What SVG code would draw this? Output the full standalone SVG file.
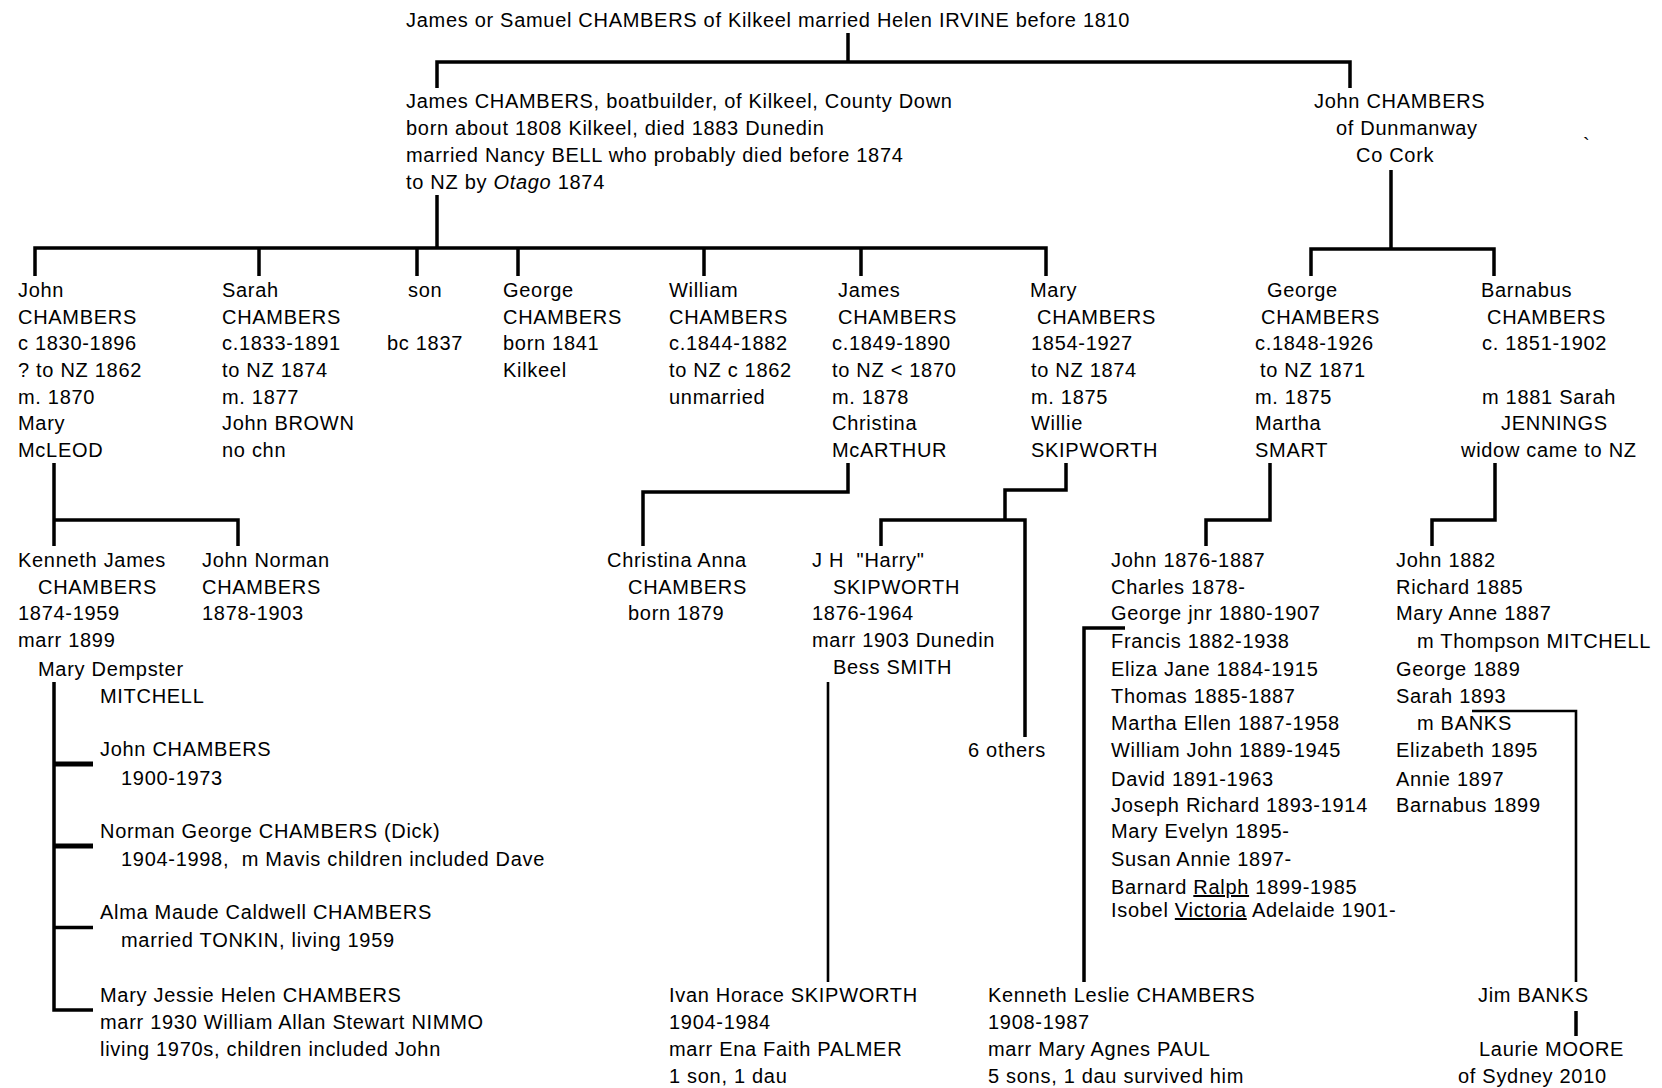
<svg xmlns="http://www.w3.org/2000/svg" width="1662" height="1088" viewBox="0 0 1662 1088">
<style>
text{font-family:"Liberation Sans",Arial,sans-serif;font-size:20px;letter-spacing:0.7px;fill:#000}
.c{fill:none;stroke:#000;stroke-width:3.5;stroke-linejoin:miter;stroke-linecap:butt}
.t{fill:none;stroke:#000;stroke-width:2.6}
.k{fill:none;stroke:#000;stroke-width:5}
.u{text-decoration:underline}
</style>
<rect width="1662" height="1088" fill="#fff"/>
<g id="connectors">
<path class="c" d="M848,33V62M437,88V62H1350V88"/>
<path class="c" d="M437,195V248M35,276V248H1046V276M259,248V276M417,248V276M518,248V276M704,248V276M861,248V276"/>
<path class="c" d="M1391,170V249M1311,276V249H1494V276"/>
<path class="c" d="M54,463V546M54,520H238V546"/>
<path class="c" d="M848,463V492H643V546"/>
<path class="c" d="M1066,463V490H1005V520M881,546V520H1025V737"/>
<path class="c" d="M1270,463V520H1206V546"/>
<path class="c" d="M1495,463V520H1432V546"/>
<path class="c" d="M54,682V1010H93M54,927.5H93"/>
<path class="k" d="M54,764H93M54,846H93"/>
<path class="t" d="M828,682V982"/>
<path class="c" d="M1125,628H1084V982"/>
<path class="t" d="M1472,711H1576V982"/>
<path class="c" d="M1576,1011V1036"/>
</g>
<g id="title"><text x="406" y="27">James or Samuel CHAMBERS of Kilkeel married Helen IRVINE before 1810</text></g>
<g id="james-sr">
<text x="406" y="108">James CHAMBERS, boatbuilder, of Kilkeel, County Down</text>
<text x="406" y="135">born about 1808 Kilkeel, died 1883 Dunedin</text>
<text x="406" y="162">married Nancy BELL who probably died before 1874</text>
<text x="406" y="189">to NZ by <tspan font-style="italic">Otago</tspan> 1874</text>
</g>
<g id="john-dunmanway">
<text x="1314" y="108">John CHAMBERS</text>
<text x="1336" y="135">of Dunmanway</text>
<text x="1356" y="162">Co Cork</text>
<text x="1583" y="152">`</text>
</g>
<g id="john">
<text x="18" y="297">John</text>
<text x="18" y="324">CHAMBERS</text>
<text x="18" y="350">c 1830-1896</text>
<text x="18" y="377">? to NZ 1862</text>
<text x="18" y="404">m. 1870</text>
<text x="18" y="430">Mary</text>
<text x="18" y="457">McLEOD</text>
</g>
<g id="sarah">
<text x="222" y="297">Sarah</text>
<text x="222" y="324">CHAMBERS</text>
<text x="222" y="350">c.1833-1891</text>
<text x="222" y="377">to NZ 1874</text>
<text x="222" y="404">m. 1877</text>
<text x="222" y="430">John BROWN</text>
<text x="222" y="457">no chn</text>
</g>
<g id="son">
<text x="408" y="297">son</text>
<text x="387" y="350">bc 1837</text>
</g>
<g id="george">
<text x="503" y="297">George</text>
<text x="503" y="324">CHAMBERS</text>
<text x="503" y="350">born 1841</text>
<text x="503" y="377">Kilkeel</text>
</g>
<g id="william">
<text x="669" y="297">William</text>
<text x="669" y="324">CHAMBERS</text>
<text x="669" y="350">c.1844-1882</text>
<text x="669" y="377">to NZ c 1862</text>
<text x="669" y="404">unmarried</text>
</g>
<g id="james-jr">
<text x="838" y="297">James</text>
<text x="838" y="324">CHAMBERS</text>
<text x="832" y="350">c.1849-1890</text>
<text x="832" y="377">to NZ &lt; 1870</text>
<text x="832" y="404">m. 1878</text>
<text x="832" y="430">Christina</text>
<text x="832" y="457">McARTHUR</text>
</g>
<g id="mary">
<text x="1030" y="297">Mary</text>
<text x="1037" y="324">CHAMBERS</text>
<text x="1031" y="350">1854-1927</text>
<text x="1031" y="377">to NZ 1874</text>
<text x="1031" y="404">m. 1875</text>
<text x="1031" y="430">Willie</text>
<text x="1031" y="457">SKIPWORTH</text>
</g>
<g id="george-d">
<text x="1267" y="297">George</text>
<text x="1261" y="324">CHAMBERS</text>
<text x="1255" y="350">c.1848-1926</text>
<text x="1260" y="377">to NZ 1871</text>
<text x="1255" y="404">m. 1875</text>
<text x="1255" y="430">Martha</text>
<text x="1255" y="457">SMART</text>
</g>
<g id="barnabus">
<text x="1481" y="297">Barnabus</text>
<text x="1487" y="324">CHAMBERS</text>
<text x="1482" y="350">c. 1851-1902</text>
<text x="1482" y="404">m 1881 Sarah</text>
<text x="1501" y="430">JENNINGS</text>
<text x="1461" y="457">widow came to NZ</text>
</g>
<g id="kenneth-james">
<text x="18" y="567">Kenneth James</text>
<text x="38" y="594">CHAMBERS</text>
<text x="18" y="620">1874-1959</text>
<text x="18" y="647">marr 1899</text>
<text x="38" y="676">Mary Dempster</text>
<text x="100" y="703">MITCHELL</text>
</g>
<g id="john-norman">
<text x="202" y="567">John Norman</text>
<text x="202" y="594">CHAMBERS</text>
<text x="202" y="620">1878-1903</text>
</g>
<g id="christina">
<text x="607" y="567">Christina Anna</text>
<text x="628" y="594">CHAMBERS</text>
<text x="628" y="620">born 1879</text>
</g>
<g id="harry">
<text x="812" y="567">J H&#160;&#160;"Harry"</text>
<text x="833" y="594">SKIPWORTH</text>
<text x="812" y="620">1876-1964</text>
<text x="812" y="647">marr 1903 Dunedin</text>
<text x="833" y="674">Bess SMITH</text>
</g>
<g id="six-others"><text x="968" y="757">6 others</text></g>
<g id="george-children">
<text x="1111" y="567">John 1876-1887</text>
<text x="1111" y="594">Charles 1878-</text>
<text x="1111" y="620">George jnr 1880-1907</text>
<text x="1111" y="648">Francis 1882-1938</text>
<text x="1111" y="676">Eliza Jane 1884-1915</text>
<text x="1111" y="703">Thomas 1885-1887</text>
<text x="1111" y="730">Martha Ellen 1887-1958</text>
<text x="1111" y="757">William John 1889-1945</text>
<text x="1111" y="786">David 1891-1963</text>
<text x="1111" y="812">Joseph Richard 1893-1914</text>
<text x="1111" y="838">Mary Evelyn 1895-</text>
<text x="1111" y="866">Susan Annie 1897-</text>
<text x="1111" y="894">Barnard <tspan class="u">Ralph</tspan> 1899-1985</text>
<text x="1111" y="917">Isobel <tspan class="u">Victoria</tspan> Adelaide 1901-</text>
</g>
<g id="barnabus-children">
<text x="1396" y="567">John 1882</text>
<text x="1396" y="594">Richard 1885</text>
<text x="1396" y="620">Mary Anne 1887</text>
<text x="1417" y="648">m Thompson MITCHELL</text>
<text x="1396" y="676">George 1889</text>
<text x="1396" y="703">Sarah 1893</text>
<text x="1417" y="730">m BANKS</text>
<text x="1396" y="757">Elizabeth 1895</text>
<text x="1396" y="786">Annie 1897</text>
<text x="1396" y="812">Barnabus 1899</text>
</g>
<g id="john-1900">
<text x="100" y="756">John CHAMBERS</text>
<text x="121" y="785">1900-1973</text>
</g>
<g id="norman-george">
<text x="100" y="838">Norman George CHAMBERS (Dick)</text>
<text x="121" y="866">1904-1998,&#160;&#160;m Mavis children included Dave</text>
</g>
<g id="alma">
<text x="100" y="919">Alma Maude Caldwell CHAMBERS</text>
<text x="121" y="947">married TONKIN, living 1959</text>
</g>
<g id="mary-jessie">
<text x="100" y="1002">Mary Jessie Helen CHAMBERS</text>
<text x="100" y="1029">marr 1930 William Allan Stewart NIMMO</text>
<text x="100" y="1056">living 1970s, children included John</text>
</g>
<g id="ivan">
<text x="669" y="1002">Ivan Horace SKIPWORTH</text>
<text x="669" y="1029">1904-1984</text>
<text x="669" y="1056">marr Ena Faith PALMER</text>
<text x="669" y="1083">1 son, 1 dau</text>
</g>
<g id="kenneth-leslie">
<text x="988" y="1002">Kenneth Leslie CHAMBERS</text>
<text x="988" y="1029">1908-1987</text>
<text x="988" y="1056">marr Mary Agnes PAUL</text>
<text x="988" y="1083">5 sons, 1 dau survived him</text>
</g>
<g id="jim-banks"><text x="1478" y="1002">Jim BANKS</text></g>
<g id="laurie-moore">
<text x="1479" y="1056">Laurie MOORE</text>
<text x="1458" y="1083">of Sydney 2010</text>
</g>
</svg>
